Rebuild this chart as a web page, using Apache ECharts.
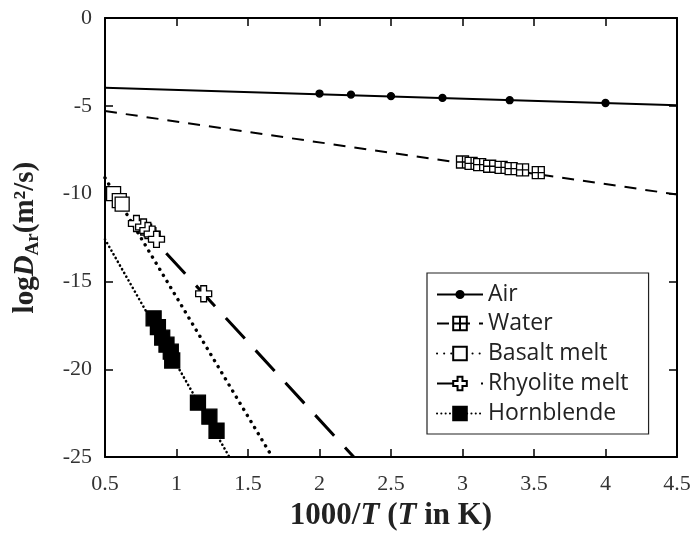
<!DOCTYPE html>
<html>
<head>
<meta charset="utf-8">
<script src="https://cdn.jsdelivr.net/npm/echarts@6/dist/echarts.min.js"></script>
<style>
  html, body { margin: 0; padding: 0; background: #fff; }
  #chart { width: 694px; height: 536px; }
</style>
</head>
<body>
<div id="chart"></div>
<script>
var xTicks = [0.5, 4.5, 0.5];   // min, max, step
var yTicks = [-25, 0, 5];

var names = ['Air', 'Water', 'Basalt melt', 'Rhyolite melt', 'Hornblende'];

// measured points
var airX = [2.0, 2.22, 2.5, 2.86, 3.33, 4.0];
var airY = [-4.30, -4.36, -4.45, -4.55, -4.68, -4.84];
var waterX = [3.0, 3.06, 3.12, 3.19, 3.27, 3.34, 3.42, 3.53];
var waterY = [-8.2, -8.28, -8.35, -8.44, -8.5, -8.58, -8.65, -8.8];
var basaltX = [0.56, 0.6, 0.62];
var basaltY = [-10.0, -10.4, -10.6];
var rhyoX = [0.72, 0.77, 0.8, 0.83, 0.86, 1.19];
var rhyoY = [-11.7, -11.9, -12.1, -12.3, -12.6, -15.7];
var hornX = [0.84, 0.87, 0.9, 0.93, 0.96, 0.97, 1.15, 1.23, 1.28];
var hornY = [-17.1, -17.6, -18.2, -18.6, -19.0, -19.5, -21.9, -22.7, -23.5];

// fitted lines (x, y at both ends)
var airFitX = [0.5, 4.5];
var airFitY = [-3.97, -4.97];
var waterFitX = [0.5, 4.5];
var waterFitY = [-5.3, -10.05];
var basaltFitX = [0.5, 1.67];
var basaltFitY = [-9.1, -25];
var rhyoFitX = [0.72, 2.24];
var rhyoFitY = [-11.55, -25];
var hornFitX = [0.5, 1.37];
var hornFitY = [-12.6, -25];

function pairs(xs, ys) {
    var out = [];
    for (var i = 0; i < xs.length; i++) {
        out.push([xs[i], ys[i]]);
    }
    return out;
}

var serif = '"Liberation Serif", "DejaVu Serif", serif';
var sans = '"Open Sans", Lato, sans-serif';

var styles = [
    { symbol: 'circle', size: 7, fill: '#000', line: 'solid', width: 2, cap: 'butt' },
    { symbol: 'path://M0,0H10V10H0Z M5,0V10 M0,5H10', size: 12, fill: '#fff', line: [12, 9], width: 2, cap: 'butt' },
    { symbol: 'rect', size: 14, fill: '#fff', line: [0.1, 7], width: 3.4, cap: 'round' },
    { symbol: 'path://M3.2,0H6.8V3.2H10V6.8H6.8V10H3.2V6.8H0V3.2H3.2Z', size: 16, fill: '#fff', line: [28, 16], width: 3, cap: 'butt' },
    { symbol: 'rect', size: 15, fill: '#000', line: [0.1, 4.2], width: 2.6, cap: 'round' }
];
var fits = [
    pairs(airFitX, airFitY), pairs(waterFitX, waterFitY), pairs(basaltFitX, basaltFitY),
    pairs(rhyoFitX, rhyoFitY), pairs(hornFitX, hornFitY)
];
var pts = [
    pairs(airX, airY), pairs(waterX, waterY), pairs(basaltX, basaltY),
    pairs(rhyoX, rhyoY), pairs(hornX, hornY)
];

var series = [];
for (var i = 0; i < names.length; i++) {
    var s = styles[i];
    // fitted line, carries the legend icon
    series.push({
        name: names[i],
        type: 'line',
        data: fits[i],
        symbol: s.symbol,
        symbolSize: s.size,
        showSymbol: false,
        z: 2,
        silent: true,
        lineStyle: { color: '#000', width: s.width, type: s.line, cap: s.cap },
        itemStyle: { color: s.fill, borderColor: '#000', borderWidth: 1.3 }
    });
}
for (var j = 0; j < names.length; j++) {
    var t = styles[j];
    series.push({
        name: names[j] + ' data',
        type: 'scatter',
        data: pts[j],
        symbol: t.symbol,
        symbolSize: t.size,
        z: 3,
        itemStyle: { color: t.fill, borderColor: '#000', borderWidth: 1.3, opacity: 1 }
    });
}

function baseAxis(extra) {
    var a = {
        type: 'value',
        axisLine: { show: true, onZero: false, lineStyle: { color: '#000', width: 2 } },
        axisTick: { show: true, inside: true, length: 8, lineStyle: { color: '#000', width: 1.5 } },
        splitLine: { show: false },
        axisLabel: { show: false }
    };
    for (var k in extra) a[k] = extra[k];
    return a;
}

var legendText = { fontFamily: sans, fontSize: 23, color: '#222', lineHeight: 20 };

var option = {
    backgroundColor: '#fff',
    animation: false,
    grid: { left: 105, right: 17, top: 18, bottom: 74 },
    legend: [
        {
            // boxed legend; top padding leaves the first row for Air
            data: names.slice(1),
            orient: 'vertical',
            left: 427,
            top: 273,
            padding: [39, 20, 9, 9],
            itemGap: 7,
            itemWidth: 46,
            itemHeight: 17,
            borderColor: '#222',
            borderWidth: 1.2,
            backgroundColor: '#fff',
            selectedMode: false,
            textStyle: legendText
        },
        {
            // Air row, smaller dot
            data: names.slice(0, 1),
            orient: 'vertical',
            left: 436,
            top: 283,
            padding: 0,
            itemWidth: 46,
            itemHeight: 9,
            selectedMode: false,
            z: 5,
            textStyle: legendText
        }
    ],
    xAxis: [
        baseAxis({
            position: 'bottom',
            min: xTicks[0], max: xTicks[1], interval: xTicks[2],
            axisLabel: { show: true, margin: 16, fontFamily: serif, fontSize: 22, color: '#333', showMinLabel: true, showMaxLabel: true },
            name: '{b|1000/}{i|T}{b| (}{i|T}{b| in K)}',
            nameLocation: 'middle',
            nameGap: 41,
            nameTextStyle: {
                rich: {
                    b: { fontFamily: serif, fontSize: 31, fontWeight: 'bold', color: '#222' },
                    i: { fontFamily: serif, fontSize: 31, fontWeight: 'bold', fontStyle: 'italic', color: '#222' }
                }
            }
        }),
        baseAxis({ position: 'top', min: xTicks[0], max: xTicks[1], interval: xTicks[2] })
    ],
    yAxis: [
        baseAxis({
            position: 'left',
            min: yTicks[0], max: yTicks[1], interval: yTicks[2],
            axisLabel: { show: true, margin: 13, fontFamily: serif, fontSize: 22, color: '#333' },
            name: '{b|log}{i|D}{s|Ar}{b|(m²/s)}',
            nameLocation: 'middle',
            nameGap: 62,
            nameTextStyle: {
                rich: {
                    b: { fontFamily: serif, fontSize: 29, fontWeight: 'bold', color: '#222', lineHeight: 34 },
                    i: { fontFamily: serif, fontSize: 29, fontWeight: 'bold', fontStyle: 'italic', color: '#222', lineHeight: 34 },
                    s: { fontFamily: serif, fontSize: 19, fontWeight: 'bold', color: '#222', lineHeight: 16, verticalAlign: 'bottom' }
                }
            }
        }),
        baseAxis({ position: 'right', min: yTicks[0], max: yTicks[1], interval: yTicks[2] })
    ],
    series: series
};

var chart = echarts.init(document.getElementById('chart'));
chart.setOption(option);
</script>
</body>
</html>
